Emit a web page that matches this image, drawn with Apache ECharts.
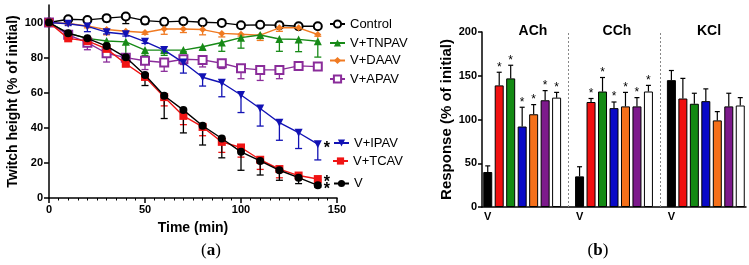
<!DOCTYPE html>
<html>
<head>
<meta charset="utf-8">
<script src="https://cdn.jsdelivr.net/npm/echarts@6/dist/echarts.min.js"></script>
<style>
  html, body { margin: 0; padding: 0; background: #fff; }
  #chart { width: 749px; height: 265px; }
</style>
</head>
<body>
<div id="chart"></div>
<script>
// (a) twitch height over time, mean with downward SEM bars
const TIMES = [0, 10, 20, 30, 40, 50, 60, 70, 80, 90, 100, 110, 120, 130, 140];

const CONTROL = [100, 101.9, 101.5, 102.5, 103.4, 101.1, 100.4, 100.8, 100.2, 99.8, 98.5, 98.7, 98.5, 97.9, 97.9];
const CONTROL_ERR = [0, 0.5, 1, 2, 4, 2, 1, 1, 1, 1, 0.5, 0.5, 0.5, 0.5, 0.5];
const TNPAV = [100, 94, 91, 89.5, 89, 84.3, 84.3, 84.3, 86.2, 88.6, 91.4, 92.9, 90.6, 90.4, 89.3];
const TNPAV_ERR = [0, 1, 2, 4, 7, 3, 3, 1, 2, 5, 6, 2, 7, 7, 9];
const DAAV = [100, 99.5, 98, 96, 95, 94.3, 96.3, 96.3, 96, 93.8, 93.3, 92.8, 97, 97, 93.2];
const DAAV_ERR = [0, 0.5, 1, 3, 1, 1, 3, 2, 3, 2, 1, 3, 2, 1, 1];
const APAV = [100, 93, 88.5, 82.5, 80, 78.2, 77.2, 79.1, 78.7, 76.8, 74, 73, 73, 75.3, 74.9];
const APAV_ERR = [0, 1, 4, 5, 1, 5, 5, 3, 4, 3, 6, 6, 5, 2, 2];
const IPAV = [100, 99.3, 97.8, 94.5, 93.3, 89.1, 84.3, 77.2, 68.8, 65.7, 58.7, 51, 42.9, 37.2, 30.7];
const IPAV_ERR = [0, 1, 3, 1, 1, 1, 1, 6, 5, 8, 10, 10, 10, 9, 9];
const TCAV = [100, 91, 89.5, 85, 76.5, 69, 57.5, 46.8, 40.5, 32, 28.8, 21.8, 16.5, 12.8, 10.8];
const TCAV_ERR = [0, 1, 2, 1, 1, 1, 5, 5, 5, 6, 5.5, 5.5, 5, 2.3, 0.5];
const V = [100, 93.9, 91, 86.6, 80.2, 70.1, 58.3, 50.1, 41.2, 33.9, 26.3, 21.1, 15.8, 11.6, 7.2];
const V_ERR = [0, 1, 1, 1, 1, 6, 13, 13, 11, 11, 10.5, 8, 5.7, 3.4, 1];

const Y_TICKS_A = [0, 20, 40, 60, 80, 100];
const X_TICKS_A = [0, 50, 100, 150];

// (b) responses to agonists, mean with upward SEM bars
const GROUPS = ["ACh", "CCh", "KCl"];
const BAR_NAMES = ["V", "V+TCAV", "V+TNPAV", "V+IPAV", "V+DAAV", "V+APAV", "Control"];
const ACH = [40, 139, 147, 92, 106, 122, 125];
const ACH_ERR = [7, 15, 15, 22, 11, 11, 6];
const ACH_SIG = [0, 1, 1, 1, 1, 1, 1];
const CCH = [35, 120, 132, 113, 115, 115, 132];
const CCH_ERR = [11, 4, 16, 7, 16, 10, 7];
const CCH_SIG = [0, 1, 1, 1, 1, 1, 1];
const KCL = [145, 124, 118, 121, 99, 115, 116];
const KCL_ERR = [11, 23, 12, 14, 10, 15, 9];
const KCL_SIG = [0, 0, 0, 0, 0, 0, 0];
const Y_TICKS_B = [0, 50, 100, 150, 200];

const BAR_COLORS = ["#000000", "#f01010", "#138a13", "#0a0ac8", "#f5701a", "#7d1a8c", "#ffffff"];

const FONT = "Liberation Sans";

// ---- panel (a) series ----
const lines = [
	{ name: "Control", vals: CONTROL, err: CONTROL_ERR, color: "#000000", symbol: "emptyCircle", size: 8 },
	{ name: "V+DAAV", vals: DAAV, err: DAAV_ERR, color: "#f07a22", symbol: "diamond", size: 7 },
	{ name: "V+TNPAV", vals: TNPAV, err: TNPAV_ERR, color: "#178a17", symbol: "triangle", size: 8 },
	{ name: "V+APAV", vals: APAV, err: APAV_ERR, color: "#8a2c9a", symbol: "emptyRect", size: 8 },
	{ name: "V+IPAV", vals: IPAV, err: IPAV_ERR, color: "#1212b4", symbol: "triangle", size: 8, rotate: 180, star: true },
	{ name: "V+TCAV", vals: TCAV, err: TCAV_ERR, color: "#f01414", symbol: "rect", size: 8, star: true },
	{ name: "V", vals: V, err: V_ERR, color: "#000000", symbol: "circle", size: 8, star: true },
];

function errDown(color) {
	return (params, api) => {
		const e = api.value(2);
		if (!e) return;
		const x = api.value(0), v = api.value(1);
		const p0 = api.coord([x, v]);
		const p1 = api.coord([x, v - e]);
		const st = { stroke: color, lineWidth: 1.3 };
		return {
			type: "group",
			children: [
				{ type: "line", shape: { x1: p0[0], y1: p0[1], x2: p1[0], y2: p1[1] }, style: st },
				{ type: "line", shape: { x1: p1[0] - 3.5, y1: p1[1], x2: p1[0] + 3.5, y2: p1[1] }, style: st },
			],
		};
	};
}

const seriesA = [];
lines.forEach((s, k) => {
	seriesA.push({
		name: "err-" + s.name,
		type: "custom",
		xAxisIndex: 0,
		yAxisIndex: 0,
		renderItem: errDown(s.color),
		data: TIMES.map((t, i) => [t, s.vals[i], s.err[i]]),
		encode: { x: 0, y: 1 },
		z: 2 + k,
		silent: true,
	});
});
lines.forEach((s, k) => {
	const data = TIMES.map((t, i) => [t, s.vals[i]]);
	if (s.star) {
		const last = data.length - 1;
		data[last] = {
			value: data[last],
			label: { show: true, formatter: "*", position: "right", distance: 3, offset: [-1, 4], fontSize: 16, fontWeight: "bold", color: "#000", fontFamily: FONT },
		};
	}
	seriesA.push({
		name: s.name,
		type: "line",
		xAxisIndex: 0,
		yAxisIndex: 0,
		data,
		symbol: s.symbol,
		symbolSize: s.size,
		symbolRotate: s.rotate || 0,
		lineStyle: { color: s.color, width: 1.4 },
		itemStyle: { color: s.color, borderColor: s.color, borderWidth: s.symbol.startsWith("empty") ? 1.4 : 0 },
		z: 10 + k,
		animation: false,
	});
});

// ---- panel (b) series ----
const groupVals = [ACH, CCH, KCL];
const groupErr = [ACH_ERR, CCH_ERR, KCL_ERR];
const groupSig = [ACH_SIG, CCH_SIG, KCL_SIG];

const cats = [];
const tickLabels = [];
const barData = [];
const errData = [];
GROUPS.forEach((g, gi) => {
	if (gi > 0) {
		cats.push("sep" + gi);
		tickLabels.push("");
		barData.push(null);
	}
	BAR_NAMES.forEach((b, bi) => {
		const idx = cats.length;
		cats.push(g + " " + b);
		tickLabels.push(bi === 0 ? "V" : "");
		barData.push({
			value: groupVals[gi][bi],
			itemStyle: { color: BAR_COLORS[bi] },
		});
		errData.push([idx, groupVals[gi][bi], groupErr[gi][bi], groupSig[gi][bi]]);
	});
});

function errUp(params, api) {
	const x = api.value(0), v = api.value(1), e = api.value(2), sig = api.value(3);
	const p0 = api.coord([x, v]);
	const p1 = api.coord([x, v + e]);
	const st = { stroke: "#000", lineWidth: 1.2 };
	const children = [
		{ type: "line", shape: { x1: p0[0], y1: p0[1], x2: p1[0], y2: p1[1] }, style: st },
		{ type: "line", shape: { x1: p1[0] - 2.5, y1: p1[1], x2: p1[0] + 2.5, y2: p1[1] }, style: st },
	];
	if (sig) {
		children.push({
			type: "text",
			style: { text: "*", x: p1[0], y: p1[1] - 5, align: "center", verticalAlign: "middle", fontSize: 12, fontFamily: FONT, fill: "#000" },
		});
	}
	return { type: "group", children };
}

const chart = echarts.init(document.getElementById("chart"));

const legendPos = {
	"Control": [329, 25],
	"V+TNPAV": [329, 44],
	"V+DAAV": [329, 61.5],
	"V+APAV": [329, 80],
	"V+IPAV": [333, 144],
	"V+TCAV": [332, 162],
	"V": [333, 184.5],
};

const panelRich = {
	b: { fontFamily: "Liberation Serif", fontSize: 17, fontWeight: "bold", color: "#000" },
};

chart.setOption({
	animation: false,
	backgroundColor: "#ffffff",
	textStyle: { fontFamily: FONT },
	title: [
		{ text: "({b|a})", left: 206, top: 237, textAlign: "center", textStyle: { fontFamily: "Liberation Serif", fontSize: 17, fontWeight: "normal", color: "#000", rich: panelRich } },
		{ text: "({b|b})", left: 593, top: 237, textAlign: "center", textStyle: { fontFamily: "Liberation Serif", fontSize: 17, fontWeight: "normal", color: "#000", rich: panelRich } },
		{ text: "ACh", left: 528, top: 19, textAlign: "center", textStyle: { fontFamily: FONT, fontSize: 14, fontWeight: "bold", color: "#000" } },
		{ text: "CCh", left: 612, top: 19, textAlign: "center", textStyle: { fontFamily: FONT, fontSize: 14, fontWeight: "bold", color: "#000" } },
		{ text: "KCl", left: 704, top: 19, textAlign: "center", textStyle: { fontFamily: FONT, fontSize: 14, fontWeight: "bold", color: "#000" } },
	],
	legend: Object.keys(legendPos).map((n) => ({
		data: [n],
		left: legendPos[n][0],
		top: legendPos[n][1] - 7.5,
		padding: 0,
		itemWidth: 15,
		itemHeight: 9,
		selectedMode: false,
		textStyle: { fontSize: 13, color: "#000", fontFamily: FONT },
	})),
	grid: [
		{ left: 49, top: 5, width: 288, height: 193 },
		{ left: 482, top: 32, width: 264, height: 175 },
	],
	xAxis: [
		{
			gridIndex: 0,
			type: "value",
			min: 0,
			max: 150,
			interval: 50,
			name: "Time (min)",
			nameLocation: "middle",
			nameGap: 23,
			nameTextStyle: { fontSize: 14, fontWeight: "bold", color: "#000", fontFamily: FONT },
			axisLine: { lineStyle: { color: "#000", width: 1.5 } },
			axisTick: { length: 5, lineStyle: { color: "#000", width: 1.5 }, customValues: X_TICKS_A },
			minorTick: { show: true, splitNumber: 10, length: 2.5, lineStyle: { color: "#000", width: 1 } },
			axisLabel: { fontSize: 11, fontWeight: "bold", color: "#000", margin: 6, customValues: X_TICKS_A },
			splitLine: { show: false },
		},
		{
			gridIndex: 1,
			type: "category",
			data: cats,
			axisLine: { lineStyle: { color: "#000", width: 1.5 } },
			axisTick: { show: false },
			axisLabel: { interval: 0, fontSize: 11, fontWeight: "bold", color: "#000", margin: 4, formatter: (v, i) => tickLabels[i] },
		},
	],
	yAxis: [
		{
			gridIndex: 0,
			type: "value",
			min: 0,
			max: 110,
			name: "Twitch height (% of initial)",
			nameLocation: "middle",
			nameGap: 29,
			nameTextStyle: { fontSize: 14, fontWeight: "bold", color: "#000", fontFamily: FONT },
			axisLine: { show: true, lineStyle: { color: "#000", width: 1.5 } },
			axisTick: { show: true, length: 5, lineStyle: { color: "#000", width: 1.5 }, customValues: Y_TICKS_A },
			axisLabel: { fontSize: 11, fontWeight: "bold", color: "#000", margin: 6, customValues: Y_TICKS_A },
			splitLine: { show: false },
		},
		{
			gridIndex: 1,
			type: "value",
			min: 0,
			max: 200,
			interval: 50,
			name: "Response (% of initial)",
			nameLocation: "middle",
			nameGap: 24,
			nameTextStyle: { fontSize: 15, fontWeight: "bold", color: "#000", fontFamily: FONT },
			axisLine: { show: true, lineStyle: { color: "#000", width: 1.5 } },
			axisTick: { show: true, length: 4, lineStyle: { color: "#000", width: 1.5 }, customValues: Y_TICKS_B },
			axisLabel: { fontSize: 11, fontWeight: "bold", color: "#000", margin: 5, customValues: Y_TICKS_B },
			splitLine: { show: false },
		},
	],
	series: [
		...seriesA,
		{
			name: "bars",
			type: "bar",
			xAxisIndex: 1,
			yAxisIndex: 1,
			data: barData,
			barWidth: 9,
			itemStyle: { borderColor: "#000", borderWidth: 1 },
			markLine: {
				silent: true,
				symbol: "none",
				label: { show: false },
				lineStyle: { color: "#888", type: [2, 2], width: 1 },
				data: [{ xAxis: "sep1" }, { xAxis: "sep2" }],
			},
		},
		{
			name: "bar-err",
			type: "custom",
			xAxisIndex: 1,
			yAxisIndex: 1,
			renderItem: errUp,
			data: errData,
			encode: { x: 0, y: 1 },
			z: 1,
			silent: true,
		},
	],
});
</script>
</body>
</html>
